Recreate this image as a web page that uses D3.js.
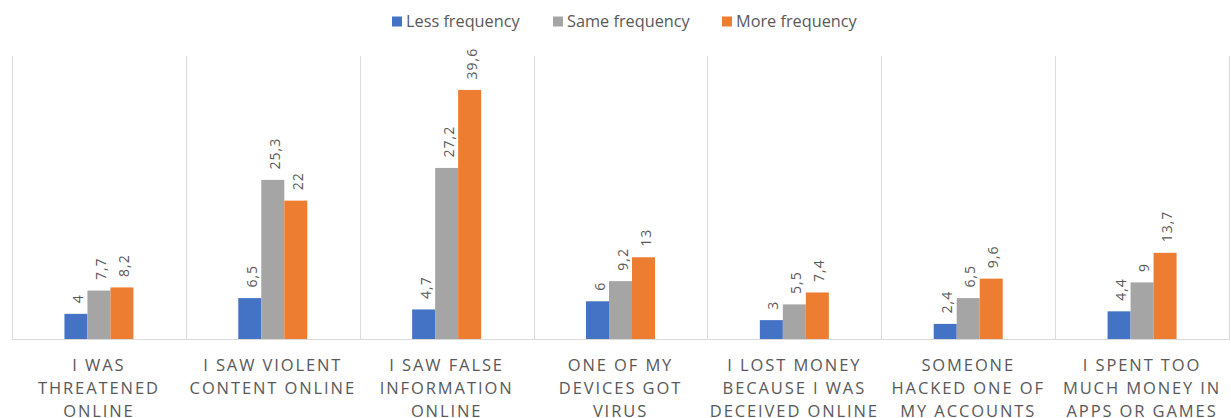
<!DOCTYPE html>
<html><head><meta charset="utf-8">
<script src="https://cdn.jsdelivr.net/npm/d3@7"></script>
<style>body{margin:0;background:#fff}svg{display:block}</style>
</head><body>
<svg id="c" width="1231" height="418"></svg>
<script>
const categories = [
  "I WAS\nTHREATENED\nONLINE",
  "I SAW VIOLENT\nCONTENT ONLINE",
  "I SAW FALSE\nINFORMATION\nONLINE",
  "ONE OF MY\nDEVICES GOT\nVIRUS",
  "I LOST MONEY\nBECAUSE I WAS\nDECEIVED ONLINE",
  "SOMEONE\nHACKED ONE OF\nMY ACCOUNTS",
  "I SPENT TOO\nMUCH MONEY IN\nAPPS OR GAMES"
];
const seriesNames = ["Less frequency", "Same frequency", "More frequency"];
const lessFrequency = [4, 6.5, 4.7, 6, 3, 2.4, 4.4];
const sameFrequency = [7.7, 25.3, 27.2, 9.2, 5.5, 6.5, 9];
const moreFrequency = [8.2, 22, 39.6, 13, 7.4, 9.6, 13.7];
const seriesColors = ["#4472C4", "#A5A5A5", "#ED7D31"];
const yDomain = [0, 45];

(function () {
const seriesValues = [lessFrequency, sameFrequency, moreFrequency];
const svg = d3.select("#c");
const pLeft = 12, pRight = 1229, pTop = 56, pBottom = 339;
const textColor = "#595959", gridColor = "#d9d9d9";
const font = "'Open Sans', sans-serif";

const x0 = d3.scaleBand().domain(categories.map((d, i) => i)).range([pLeft, pRight]).padding(0);
const bw = x0.bandwidth();
const groupW = 69;
const x1 = d3.scaleBand().domain(seriesNames).range([bw / 2 - groupW / 2, bw / 2 + groupW / 2]).padding(0);
const y = d3.scaleLinear().domain(yDomain).range([pBottom, pTop]);
const loc = d3.formatLocale({decimal: ",", thousands: ".", grouping: [3], currency: ["", ""]});
const fmt = v => loc.format("~g")(v);

const bounds = categories.map((d, i) => x0(i)).concat([pRight]);
svg.append("g").selectAll("line").data(bounds).join("line")
  .attr("x1", d => Math.round(d) + 0.5).attr("x2", d => Math.round(d) + 0.5)
  .attr("y1", pTop).attr("y2", pBottom)
  .attr("stroke", gridColor).attr("stroke-width", 1);
svg.append("line").attr("x1", pLeft).attr("x2", pRight + 1)
  .attr("y1", pBottom + 0.5).attr("y2", pBottom + 0.5)
  .attr("stroke", gridColor).attr("stroke-width", 1);

const groups = svg.append("g").selectAll("g").data(categories).join("g")
  .attr("transform", (d, i) => `translate(${x0(i)},0)`);

groups.each(function (cat, ci) {
  const g = d3.select(this);
  seriesNames.forEach((s, si) => {
    const v = seriesValues[si][ci];
    g.append("rect")
      .attr("x", x1(s)).attr("width", x1.bandwidth())
      .attr("y", y(v)).attr("height", y(0) - y(v))
      .attr("fill", seriesColors[si]);
    const cx = x1(s) + x1.bandwidth() / 2 + 7;
    const ty = y(v) - 10.5;
    g.append("text")
      .attr("transform", `translate(${cx},${ty}) rotate(-90)`)
      .attr("text-anchor", "start")
      .attr("font-family", font).attr("font-size", 14)
      .attr("letter-spacing", 1)
      .attr("fill", textColor)
      .text(fmt(v));
  });
  const lines = cat.split("\n");
  const t = g.append("text")
    .attr("text-anchor", "middle")
    .attr("font-family", font).attr("font-size", 16.5)
    .attr("letter-spacing", 1.9)
    .attr("fill", textColor);
  lines.forEach((ln, li) => {
    t.append("tspan").attr("x", bw / 2).attr("y", 370.5 + li * 23.2).text(ln);
  });
});

const legendX = [392, 553, 722];
const lg = svg.append("g").selectAll("g").data(seriesNames).join("g")
  .attr("transform", (d, i) => `translate(${legendX[i]},0)`);
lg.append("rect").attr("x", 0).attr("y", 16.5).attr("width", 10).attr("height", 10)
  .attr("fill", (d, i) => seriesColors[i]);
lg.append("text").attr("x", 14).attr("y", 26.5)
  .attr("font-family", font).attr("font-size", 16.3).attr("fill", textColor)
  .text(d => d);
})();
</script>
</body></html>
